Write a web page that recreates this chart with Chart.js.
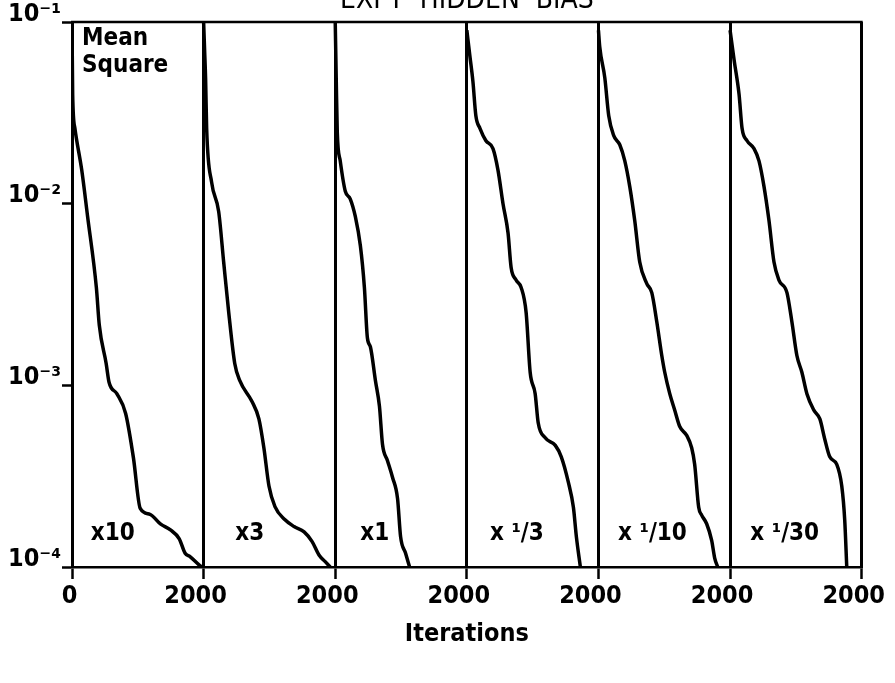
<!DOCTYPE html>
<html>
<head>
<meta charset="utf-8">
<script src="https://cdn.jsdelivr.net/npm/chart.js@4/dist/chart.umd.min.js"></script>
<style>
html,body{margin:0;padding:0;background:#fff;overflow:hidden;}
canvas{display:block;}
</style>
</head>
<body>
<canvas id="c" width="895" height="683"></canvas>
<script>
// ---- data ----
const panelLabels = ["x10", "x3", "x1", "x \u00B9/3", "x \u00B9/10", "x \u00B9/30"];
const yTickValues = [1e-4, 1e-3, 1e-2, 1e-1];
const yTickLabels = ["10\u207B\u2074", "10\u207B\u00B3", "10\u207B\u00B2", "10\u207B\u00B9"];
const xTickLabels = ["0", "2000"];

const itersX10 = [0, 10, 44, 148, 237, 370, 415, 519, 563, 681, 815, 933, 1037, 1185, 1348, 1496, 1630, 1719, 1793, 1926, 1970];
const msX10    = [0.1, 0.04, 0.026, 0.0153, 0.0085, 0.00346, 0.00214, 0.00132, 0.00104, 0.0009, 0.0007, 0.0004, 0.00021, 0.000195, 0.000172, 0.00016, 0.000143, 0.000119, 0.000114, 0.000103, 0.0001];

const itersX3 = [0, 15, 30, 46, 122, 229, 305, 382, 473, 550, 733, 840, 916, 993, 1084, 1237, 1374, 1527, 1649, 1756, 1848, 1924];
const msX3    = [0.1, 0.07, 0.049, 0.026, 0.0131, 0.00904, 0.00476, 0.00251, 0.00132, 0.00106, 0.000817, 0.000653, 0.000452, 0.000279, 0.000215, 0.000182, 0.000167, 0.000156, 0.000138, 0.000116, 0.000107, 0.0001];

const itersX1 = [0, 15, 31, 76, 153, 229, 305, 382, 443, 489, 534, 611, 672, 718, 794, 870, 947, 993, 1069, 1130];
const msX1    = [0.1, 0.049, 0.0248, 0.0172, 0.0117, 0.0106, 0.0085, 0.00586, 0.00346, 0.00182, 0.00163, 0.00106, 0.000766, 0.000474, 0.000385, 0.000312, 0.000238, 0.000147, 0.000119, 0.0001];

const itersX1_3 = [0, 46, 92, 137, 199, 290, 397, 473, 550, 626, 672, 748, 825, 901, 962, 1038, 1084, 1191, 1344, 1435, 1542, 1619, 1664, 1725];
const msX1_3    = [0.09, 0.065, 0.0471, 0.0305, 0.026, 0.0222, 0.0201, 0.0153, 0.00995, 0.00689, 0.00447, 0.0038, 0.00346, 0.00251, 0.00118, 0.0009, 0.000622, 0.000514, 0.000467, 0.000404, 0.000293, 0.000213, 0.000147, 0.0001];

const itersX1_10 = [0, 20, 96, 156, 232, 324, 400, 475, 551, 627, 734, 810, 886, 962, 1007, 1083, 1159, 1235, 1341, 1417, 1462, 1523, 1568, 1644, 1720, 1766, 1812];
const msX1_10    = [0.09, 0.0726, 0.0494, 0.0305, 0.0237, 0.0211, 0.0172, 0.01245, 0.00807, 0.00477, 0.00363, 0.00324, 0.00224, 0.00146, 0.00118, 0.0009, 0.00073, 0.000593, 0.00053, 0.000452, 0.000367, 0.000213, 0.000193, 0.000173, 0.00014, 0.000112, 0.0001];

const itersX1_30 = [0, 61, 136, 182, 258, 364, 439, 515, 591, 667, 742, 864, 939, 1015, 1091, 1167, 1273, 1364, 1439, 1515, 1621, 1697, 1742, 1773];
const msX1_30    = [0.09, 0.0618, 0.0401, 0.026, 0.0222, 0.0201, 0.0172, 0.01245, 0.00807, 0.00477, 0.0038, 0.00324, 0.00224, 0.00146, 0.00118, 0.0009, 0.00073, 0.000653, 0.000505, 0.000404, 0.000367, 0.000279, 0.000181, 0.0001];

const panelIters = [itersX10, itersX3, itersX1, itersX1_3, itersX1_10, itersX1_30];
const panelMS = [msX10, msX3, msX1, msX1_3, msX1_10, msX1_30];
const panelSpan = 2000;

// ---- build chart ----
const FONT = '"DejaVu Sans Condensed", "DejaVu Sans", sans-serif';
const datasets = panelIters.map((its, i) => ({
  label: panelLabels[i],
  data: its.map((t, j) => ({ x: t + i * panelSpan, y: panelMS[i][j] })),
  borderColor: '#000',
  borderWidth: 3.5,
  pointRadius: 0,
  fill: false,
  cubicInterpolationMode: 'monotone'
}));

const decor = {
  id: 'decor',
  afterDraw(chart) {
    const ctx = chart.ctx, a = chart.chartArea;
    const xs = chart.scales.x, ys = chart.scales.y;
    ctx.save();
    // frame top
    ctx.strokeStyle = '#000';
    ctx.lineWidth = 2.5;
    ctx.beginPath();
    ctx.moveTo(a.left - 1, a.top);
    ctx.lineTo(a.right + 1, a.top);
    ctx.stroke();
    // title (cut at the top edge as in the reference)
    ctx.fillStyle = '#000';
    ctx.font = '28px ' + FONT;
    ctx.textAlign = 'center';
    ctx.textBaseline = 'alphabetic';
    ctx.fillText('EXPT  HIDDEN  BIAS', (a.left + a.right) / 2, 8);
    // Mean Square
    ctx.textAlign = 'left';
    ctx.textBaseline = 'top';
    ctx.font = 'bold 24px ' + FONT;
    ctx.fillText('Mean', a.left + 10, a.top + 5);
    ctx.fillText('Square', a.left + 10, a.top + 32);
    // panel labels
    ctx.textAlign = 'center';
    ctx.textBaseline = 'alphabetic';
    ctx.font = 'bold 24px ' + FONT;
    const lx = [620, 700, 600, 760, 820, 830];
    panelLabels.forEach((lab, i) => {
      ctx.fillText(lab, xs.getPixelForValue(i * panelSpan + lx[i]), ys.getPixelForValue(1.4e-4));
    });
    ctx.restore();
  }
};

new Chart(document.getElementById('c'), {
  type: 'line',
  data: { datasets },
  options: {
    responsive: false,
    animation: false,
    events: [],
    layout: { padding: { top: 22, right: 30, left: 0, bottom: 34 } },
    plugins: { legend: { display: false }, tooltip: { enabled: false }, title: { display: false } },
    scales: {
      x: {
        type: 'linear',
        min: 0, max: 6 * panelSpan,
        afterFit(s) { s.height = 82; },
        ticks: {
          stepSize: panelSpan,
          color: '#000',
          font: { family: FONT, size: 25, weight: 'bold' },
          padding: 2,
          labelOffset: -8,
          maxRotation: 0,
          autoSkip: false,
          callback: (v) => v === 0 ? '\u2002' + xTickLabels[0] : xTickLabels[1]
        },
        grid: { color: '#000', lineWidth: 3, drawOnChartArea: true, drawTicks: true, tickLength: 12, tickColor: '#000', tickWidth: 2.5 },
        border: { display: true, color: '#000', width: 2.5 },
        title: { display: true, text: 'Iterations', color: '#000', font: { family: FONT, size: 25, weight: 'bold' }, padding: { top: 0, bottom: 0 } }
      },
      y: {
        type: 'logarithmic',
        min: 1e-4, max: 1e-1,
        afterFit(s) { s.width = 72; },
        afterBuildTicks(s) { s.ticks = yTickValues.map(v => ({ value: v })); },
        ticks: {
          color: '#000',
          font: { family: FONT, size: 25, weight: 'bold' },
          padding: 1,
          labelOffset: -8,
          callback: (v) => { const k = yTickValues.indexOf(v); return k >= 0 ? yTickLabels[k] : ''; }
        },
        grid: { drawOnChartArea: false, drawTicks: true, tickLength: 10, tickColor: '#000', tickWidth: 2.5 },
        border: { display: true, color: '#000', width: 2.5 }
      }
    }
  },
  plugins: [decor]
});
</script>
</body>
</html>
